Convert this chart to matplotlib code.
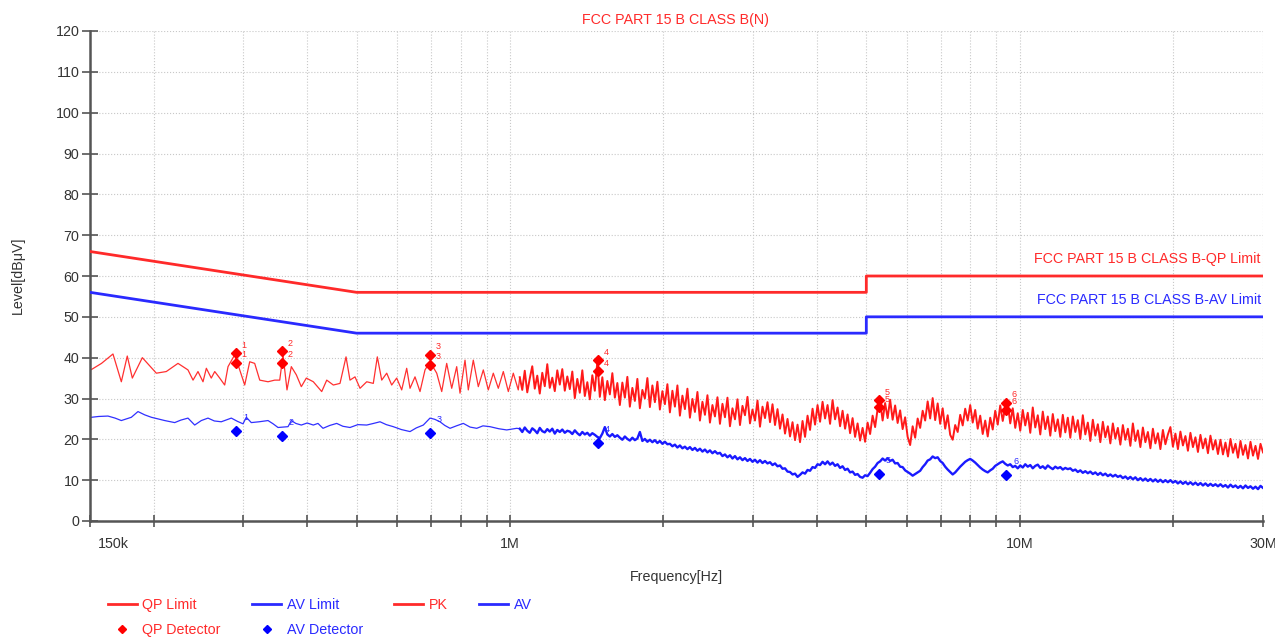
import numpy as np
import matplotlib
matplotlib.use("Agg")
import matplotlib.pyplot as plt
import matplotlib.transforms as mtrans
from matplotlib.lines import Line2D
from matplotlib.ticker import NullFormatter

plt.rcParams['font.family'] = ['Liberation Sans', 'DejaVu Sans']

RED = '#ff2a2a'
BLUE = '#2a2aff'
FS = 10.3

# Limit lines (FCC Part 15 B class B, conducted)
limit_freq = [0.15e6, 0.5e6, 5e6, 5e6, 30e6]
qp_limit = [66, 56, 56, 60, 60]
av_limit = [56, 46, 46, 50, 50]

# Peak trace, low band (kHz / dBuV)
pk_low_khz = [151, 158, 166.4, 172.8, 177.5, 181.6, 190, 202.4, 211.7, 223.2,
              233.5, 238.9, 244.3, 249.9, 253.7, 259.4, 263.5, 269.5, 275.6, 279.8,
              288.4, 295, 301.7, 308.6, 315.6, 322.9, 335.2, 345.5, 353.4, 358.7,
              365.2, 372.4, 380.9, 389.6, 398.5, 411.3, 427.2, 437, 450.2, 464,
              476.8, 485.4, 496.5, 507.9, 523.5, 539.3, 549.2, 560.2, 573, 586,
              599.4, 613.1, 627.1, 636.6, 651.1, 666, 681.2, 696.7, 718.2, 734.6,
              751.3, 768.5, 786, 797.9, 816.1, 828.3, 847.2, 866.6, 886.4, 906.6,
              927.3, 948.5, 970.2, 992.4, 1015, 1038]
pk_low_db = [37.1, 38.6, 40.9, 34.1, 40.4, 35.0, 40.0, 36.2, 36.6, 38.6,
             37.0, 34.5, 36.6, 34.1, 37.4, 35.0, 36.6, 35.0, 33.3, 37.8,
             40.7, 37.0, 33.3, 39.0, 38.6, 34.5, 34.1, 34.5, 34.5, 40.7,
             32.1, 37.8, 35.8, 32.9, 35.0, 34.1, 31.7, 34.5, 33.3, 33.7,
             40.2, 34.5, 35.3, 32.5, 34.1, 33.7, 40.2, 34.5, 36.2, 33.3,
             35.0, 32.1, 37.4, 32.5, 35.3, 31.7, 37.0, 39.0, 36.2, 31.7,
             38.6, 32.5, 37.8, 31.3, 39.4, 32.1, 39.4, 32.9, 37.0, 32.1,
             36.2, 32.5, 36.6, 31.7, 36.2, 32.1]

# Average trace, low band
av_low_khz = [151, 156, 162.7, 168, 172.8, 180.8, 186.3, 192, 197.9, 204,
              210.2, 219.9, 226, 233.5, 240.7, 248, 255.6, 263, 271.4, 284,
              292, 299.4, 303.9, 310.8, 322, 335.2, 343, 350.7, 366.9, 372.4,
              380, 389.6, 400, 411.3, 420, 429.7, 443, 457.1, 470, 485.4,
              503, 523.5, 540, 555.9, 572, 590.3, 612, 636.6, 655, 676,
              696.7, 712, 728.9, 745, 762.7, 785, 809.9, 835, 860.4, 885,
              913.7, 950, 985.2, 1030.8]
av_low_db = [25.4, 25.6, 25.7, 25.2, 24.6, 25.4, 26.8, 26.0, 25.4, 25.0,
             24.6, 24.1, 24.7, 25.2, 23.5, 24.6, 25.2, 24.5, 24.3, 25.2,
             24.4, 23.8, 25.4, 24.1, 24.3, 24.6, 23.8, 22.9, 23.1, 24.6,
             23.9, 23.5, 24.0, 23.5, 23.9, 22.7, 23.4, 23.9, 23.2, 22.9,
             23.6, 23.5, 23.9, 24.3, 23.6, 23.1, 22.4, 21.9, 22.8, 23.5,
             25.2, 24.9, 24.3, 23.4, 22.7, 23.3, 23.9, 23.0, 22.7, 23.3,
             23.1, 22.6, 22.3, 22.7]

# High band sweep 1.045 MHz .. 30 MHz
sweep_start, sweep_stop = 1.045e6, 30e6
pk_high_db = [
    35.2, 32.1, 36.8, 31.5, 34.9, 37.9, 32.4, 35.6, 31.2, 36.3, 33.0, 38.4, 32.6, 35.1, 31.8, 36.9, 33.4, 37.2, 31.9, 35.4,
    32.3, 36.6, 30.1, 34.8, 31.4, 36.9, 30.6, 34.0, 29.8, 35.7, 31.9, 39.0, 30.4, 35.2, 29.6, 34.3, 31.0, 36.2, 30.2, 33.8,
    28.4, 33.9, 30.2, 35.3, 28.0, 32.6, 29.4, 34.8, 27.6, 32.1, 30.0, 35.0, 27.9, 33.2, 29.1, 34.1, 27.3, 31.8, 28.6, 33.5,
    26.6, 31.9, 28.0, 33.2, 25.8, 30.7, 27.4, 32.4, 25.3, 29.9, 26.7, 31.6, 24.6, 29.2, 26.0, 30.8, 24.1, 28.4, 25.6, 30.3,
    23.8, 28.7, 25.4, 30.2, 23.2, 27.6, 24.9, 29.8, 23.5, 28.2, 25.9, 30.4, 23.9, 27.3, 24.6, 29.5, 23.1, 28.0, 25.2, 29.1,
    24.2, 28.6, 23.5, 27.4, 22.6, 26.1, 21.4, 25.0, 20.7, 24.2, 19.8, 23.6, 19.3, 24.5, 20.6, 25.8, 22.3, 27.5, 23.6, 28.4,
    24.3, 29.2, 25.1, 28.4, 23.8, 29.6, 24.9, 27.8, 23.2, 27.0, 22.6, 26.1, 21.5, 25.2, 20.6, 23.9, 19.7, 22.8, 19.4, 24.1,
    21.3, 25.8, 23.0, 27.4, 29.3, 24.6, 28.9, 25.2, 29.7, 24.8, 28.3, 24.0, 27.1, 22.5, 25.4, 20.6, 18.6, 23.2, 20.4, 25.1,
    22.8, 27.0, 24.6, 29.3, 25.1, 30.1, 24.7, 28.8, 23.8, 27.6, 22.6, 25.9, 21.1, 19.9, 23.5, 21.8, 26.0, 23.4, 27.5, 24.6,
    28.4, 24.1, 27.2, 22.6, 25.8, 21.3, 24.6, 20.7, 25.3, 22.4, 27.0, 23.6, 28.3, 24.5, 27.9, 28.8, 23.9, 27.6, 22.8, 26.4,
    22.1, 27.2, 23.4, 26.5, 21.6, 27.8, 22.9, 25.9, 21.2, 26.8, 22.5, 25.6, 20.9, 26.2, 22.0, 24.9, 20.6, 26.0, 21.7, 25.3,
    20.4, 25.6, 21.8, 24.7, 20.1, 25.9, 21.2, 24.1, 19.6, 24.8, 20.9, 23.7, 19.3, 24.3, 20.5, 23.2, 19.0, 23.9, 20.2, 22.8,
    18.7, 23.5, 19.9, 22.6, 18.4, 23.9, 19.6, 22.2, 18.1, 22.9, 19.3, 21.8, 17.8, 22.6, 19.0, 21.5, 17.6, 22.3, 18.8, 21.2,
    23.0, 18.2, 21.4, 17.6, 21.9, 18.5, 20.8, 17.2, 21.6, 18.1, 20.5, 16.9, 21.1, 17.8, 20.2, 16.6, 20.9, 17.5, 19.8, 16.4,
    19.9, 16.3, 19.2, 15.8, 20.1, 16.7, 18.9, 15.5, 19.6, 16.2, 18.6, 15.3, 19.4, 16.0, 18.4, 15.2, 18.9, 16.8]
av_high_db = [
    22.6, 21.8, 22.9, 22.1, 21.6, 22.7, 22.2, 21.5, 22.8, 22.0, 21.7, 22.5, 21.9, 22.6, 21.4, 22.3, 21.8, 22.4, 21.6, 22.1,
    21.9, 21.3, 22.2, 21.5, 21.0, 21.8, 21.2, 21.6, 20.9, 21.5, 21.1, 20.6, 20.3, 21.4, 23.0, 21.2, 20.7, 21.3, 20.6, 21.0,
    20.4, 19.9, 20.7, 20.1, 19.7, 20.4, 19.8, 20.2, 21.8, 19.6, 20.1, 19.4, 19.9, 19.3, 19.8, 19.1, 19.6, 18.9, 19.4, 18.8,
    18.9, 18.3, 18.7, 18.0, 18.5, 17.8, 18.2, 17.6, 18.1, 17.4, 17.9, 17.2, 17.7, 17.0, 17.5, 16.8, 17.3, 16.6, 17.1, 16.5,
    16.7, 15.9, 16.3, 15.6, 16.1, 15.3, 15.9, 15.1, 15.6, 14.9, 15.4, 14.7, 15.2, 14.5, 15.0, 14.3, 14.9, 14.2, 14.7, 14.1,
    14.4, 13.7, 14.1, 13.4, 13.6, 12.8, 12.9, 12.1, 12.0, 11.4, 11.6, 10.8, 11.3, 11.9, 11.6, 12.5, 12.3, 13.2, 13.0, 13.9,
    13.7, 14.5, 13.9, 14.6, 13.8, 14.3, 13.5, 13.9, 13.0, 13.4, 12.5, 12.8, 11.9, 12.1, 11.3, 11.5, 10.8, 10.6, 11.2, 11.0,
    11.8, 12.7, 13.3, 14.2, 14.6, 15.3, 14.8, 15.4, 14.7, 15.0, 14.1, 14.2, 13.3, 13.2, 12.4, 12.0, 11.6, 11.1, 11.5, 11.9,
    12.3, 13.2, 13.9, 14.8, 15.1, 15.8, 15.4, 15.6, 14.7, 14.2, 13.3, 12.6, 12.0, 11.4, 11.9, 12.6, 13.3, 13.9, 14.5, 14.9,
    15.2, 14.8, 14.3, 13.7, 13.1, 12.6, 12.2, 11.9, 12.4, 12.8, 13.5, 13.9, 14.3, 14.6, 14.0, 13.6, 13.9, 13.2, 13.5, 12.9,
    13.6, 13.1, 13.9, 13.3, 13.7, 12.9, 13.5, 13.8, 13.0, 13.4, 12.8, 13.6, 13.1, 12.7, 13.3, 12.9, 13.2, 12.6, 13.0, 12.7,
    12.9, 12.3, 12.6, 12.0, 12.4, 11.8, 12.2, 11.7, 12.1, 11.5, 11.9, 11.3, 11.8, 11.2, 11.6, 11.0, 11.4, 10.9, 11.3, 10.8,
    11.1, 10.5, 10.9, 10.3, 10.8, 10.2, 10.7, 10.0, 10.5, 9.9, 10.4, 9.8, 10.3, 9.7, 10.2, 9.6, 10.1, 9.5, 10.0, 9.5,
    10.0, 9.4, 9.8, 9.2, 9.7, 9.1, 9.6, 9.0, 9.5, 8.9, 9.4, 8.8, 9.3, 8.7, 9.2, 8.6, 9.1, 8.6, 9.0, 8.5,
    9.0, 8.4, 8.8, 8.2, 8.9, 8.3, 8.7, 8.1, 8.6, 8.0, 8.7, 8.1, 8.5, 7.9, 8.4, 7.8, 8.6, 8.1]

# Final measurement points
mark_freq = [0.290e6, 0.357e6, 0.697e6, 1.488e6, 5.295e6, 9.40e6]
mark_pk = [41.1, 41.6, 40.7, 39.4, 29.6, 28.9]
mark_qp = [38.7, 38.7, 38.2, 36.7, 27.8, 27.2]
mark_av = [22.0, 20.8, 21.6, 19.1, 11.5, 11.3]

pk_low_f = np.array(pk_low_khz) * 1e3
pk_high_f = np.geomspace(sweep_start, sweep_stop, len(pk_high_db))
av_low_f = np.array(av_low_khz) * 1e3
av_high_f = np.geomspace(sweep_start, sweep_stop, len(av_high_db))

fig = plt.figure(figsize=(12.75, 6.39), dpi=100)
ax = fig.add_axes([90 / 1275, 1 - 521 / 639, 1173 / 1275, 490 / 639])

ax.plot(limit_freq, qp_limit, color=RED, lw=2, zorder=3)
ax.plot(limit_freq, av_limit, color=BLUE, lw=2, zorder=3)

# low band drawn thin, dense high band a little heavier so it reads as a band
ax.plot(np.append(pk_low_f, pk_high_f[0]), np.append(pk_low_db, pk_high_db[0]),
        color='#ff3030', lw=0.9, zorder=2)
ax.plot(pk_high_f, pk_high_db, color='#ff1a1a', lw=1.4, zorder=2)
ax.plot(np.append(av_low_f, av_high_f[0]), np.append(av_low_db, av_high_db[0]),
        color='#3030ff', lw=0.9, zorder=2)
ax.plot(av_high_f, av_high_db, color='#1a1aff', lw=1.7, zorder=2)

ax.plot(mark_freq, mark_pk, ls='none', marker='D', ms=5.5, color='#ff0000', zorder=4)
ax.plot(mark_freq, mark_qp, ls='none', marker='D', ms=5.5, color='#ff0000', zorder=4)
ax.plot(mark_freq, mark_av, ls='none', marker='D', ms=5.5, color='#0000ff', zorder=4)
for i, f in enumerate(mark_freq):
    for lvl in (mark_pk[i], mark_qp[i]):
        ax.annotate(str(i + 1), (f, lvl), xytext=(4, 4), textcoords='offset points',
                    fontsize=6.5, color=RED)
    ax.annotate(str(i + 1), (f, mark_av[i]), xytext=(5, 8), textcoords='offset points',
                fontsize=6.5, color=BLUE)

ax.text(29.7e6, 64.2, 'FCC PART 15 B CLASS B-QP Limit', ha='right', va='center',
        color=RED, fontsize=FS)
ax.text(29.7e6, 54.1, 'FCC PART 15 B CLASS B-AV Limit', ha='right', va='center',
        color=BLUE, fontsize=FS)

ax.set_xscale('log')
ax.set_xlim(150e3, 30e6)
ax.set_ylim(0, 120)
ax.set_yticks(range(0, 121, 10))
ax.set_xticks([150e3, 1e6, 10e6, 30e6])
ax.set_xticklabels(['150k', '1M', '10M', '30M'])
minor = [2e5, 3e5, 4e5, 5e5, 6e5, 7e5, 8e5, 9e5,
         2e6, 3e6, 4e6, 5e6, 6e6, 7e6, 8e6, 9e6, 2e7]
ax.set_xticks(minor, minor=True)
ax.xaxis.set_minor_formatter(NullFormatter())

ax.tick_params(axis='y', direction='inout', length=11, width=1.2, color='#555555',
               labelcolor='#333333', labelsize=FS, pad=2)
ax.tick_params(axis='x', which='both', direction='inout', length=9, width=1.2,
               color='#555555', labelcolor='#333333', labelsize=FS, pad=7)
lbl = ax.get_xticklabels()[0]
lbl.set_ha('left')
lbl.set_transform(lbl.get_transform() + mtrans.ScaledTranslation(8 / 100, 0, fig.dpi_scale_trans))

for s in ('top', 'right'):
    ax.spines[s].set_visible(False)
for s in ('left', 'bottom'):
    ax.spines[s].set_color('#555555')
    ax.spines[s].set_linewidth(1.8)

ax.grid(True, which='both', axis='x', ls=':', color='#c8c8c8', lw=0.8)
ax.grid(True, which='major', axis='y', ls=':', color='#c8c8c8', lw=0.8)

fig.text(676 / 1275, 1 - 20 / 639, 'FCC PART 15 B CLASS B(N)', color=RED,
         ha='center', va='center', fontsize=FS)
fig.text(18 / 1275, 1 - 275 / 639, 'Level[dBμV]', rotation=90, ha='center',
         va='center', fontsize=FS, color='#333333')
fig.text(676 / 1275, 1 - 577 / 639, 'Frequency[Hz]', ha='center', va='center',
         fontsize=FS, color='#333333')

handles = [Line2D([], [], color=RED, lw=2),
           Line2D([], [], ls='none', marker='D', ms=4, color='#ff0000'),
           Line2D([], [], color=BLUE, lw=2),
           Line2D([], [], ls='none', marker='D', ms=4, color='#0000ff'),
           Line2D([], [], color=RED, lw=2),
           Line2D([], [], color=BLUE, lw=2)]
labels = ['QP Limit', 'QP Detector', 'AV Limit', 'AV Detector', 'PK', 'AV']
colors = [RED, RED, BLUE, BLUE, RED, BLUE]
leg = fig.legend(handles, labels, loc='upper left', bbox_to_anchor=(108 / 1275, 1 - 598 / 639),
                 ncol=4, frameon=False, fontsize=FS, handlelength=2.0,
                 handletextpad=0.4, columnspacing=2.2, labelspacing=0.75,
                 borderpad=0, borderaxespad=0)
for t, c in zip(leg.get_texts(), colors):
    t.set_color(c)

fig.savefig('out.png', dpi=100, facecolor='white')
